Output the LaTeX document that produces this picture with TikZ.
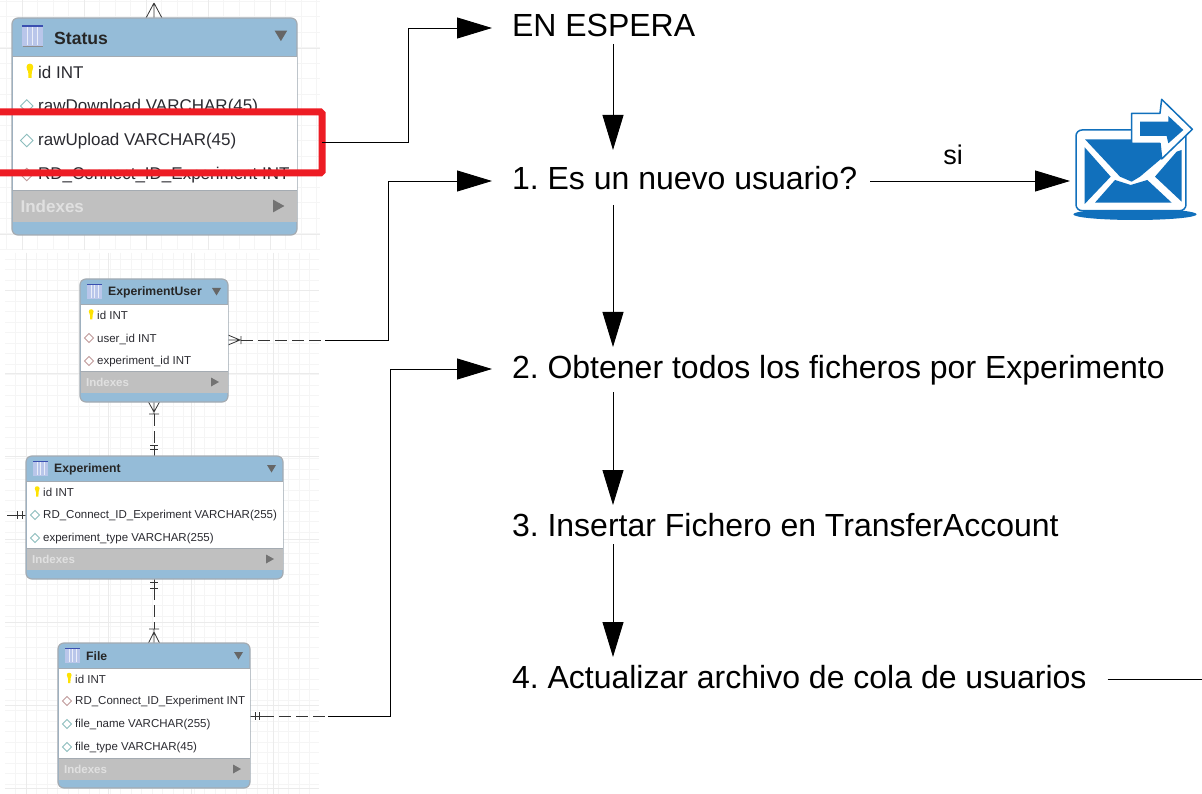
\documentclass[tikz,border=0pt]{standalone}
\usepackage{fontspec}
\setmainfont{Liberation Sans}
\usetikzlibrary{arrows.meta,calc}
\definecolor{erblue}{HTML}{95BCD8}
\definecolor{ergray}{HTML}{C0C0C0}
\definecolor{eredge}{HTML}{A4ABB2}
\definecolor{ertext}{HTML}{2A2A30}
\definecolor{erred}{HTML}{ED1C24}
\definecolor{mailblue}{HTML}{1170BC}
\definecolor{icondark}{HTML}{3A4FB0}
\definecolor{iconfill}{HTML}{B9C6EA}
\definecolor{diateal}{HTML}{8CBDBD}
\definecolor{diared}{HTML}{C09A9A}
\tikzset{
  x=1pt,y=-1pt,
  gridminor/.style={draw=black!4,line width=0.5pt},
  gridmajor/.style={draw=black!8,line width=0.7pt},
  flowtext/.style={anchor=base west,inner sep=0pt,outer sep=0pt,text height=25pt,text depth=7pt,font=\fontsize{32}{32}\selectfont},
  flowline/.style={draw=black,line width=0.9pt},
  flowarrow/.style={flowline,-{Triangle[length=35pt,width=21pt,fill=black]}},
  rowtext/.style={anchor=west,inner sep=0pt,text=ertext},
  notation/.style={draw=black!80,line width=0.8pt},
  dashnote/.style={notation,dash pattern=on 12pt off 5pt},
  highlight/.style={draw=erred,line width=7pt,rounded corners=1.5pt},
}
\newcommand{\ersizes}[4]{\def\erfs{#1}\def\ertfs{#2}\def\eru{#3}\def\ertitlex{#4}}
% name x1 y1 x2 y2 ybody yidx ybot title
\newcommand{\ertable}[9]{%
  \path[fill=erblue,draw=eredge,line width=1.2pt,rounded corners=6pt] (#2,#3) rectangle (#4,#5);
  \path[fill=white] (#2+0.5,#6) rectangle (#4-0.5,#7);
  \path[fill=ergray] (#2+0.5,#7) rectangle (#4-0.5,#8);
  \draw[eredge,line width=0.7pt] (#2,#6) -- (#4,#6) (#2,#7) -- (#4,#7);
  \path[fill=black!45] ({#2+7.6*\eru},{#3+5.6*\eru}) rectangle ({#2+22.4*\eru},{#3+20.4*\eru});
  \path[fill=iconfill] ({#2+7*\eru},{#3+5*\eru}) rectangle ({#2+22*\eru},{#3+20*\eru});
  \path[fill=icondark] ({#2+7*\eru},{#3+5*\eru}) rectangle ({#2+22*\eru},{#3+6.2*\eru});
  \foreach \k in {11,14.5,18}{\draw[white!70!iconfill,line width=0.4pt] ({#2+\k*\eru},{#3+6.3*\eru}) -- ({#2+\k*\eru},{#3+19*\eru});}
  \path[fill=black!60] ({#4-16*\eru},{#3+9*\eru}) -- ({#4-7*\eru},{#3+9*\eru}) -- ({#4-11.5*\eru},{#3+16.5*\eru}) -- cycle;
  \node[rowtext,font=\fontsize{\ertfs}{\ertfs}\selectfont\bfseries,text=black!85] (#1title) at ({#2+\ertitlex},{(#3+#6)/2+1}) {#9};
  \node[rowtext,font=\fontsize{\erfs}{\erfs}\selectfont\bfseries,text=white!88!black] (#1idx) at ({#2+6*\eru},{(#7+#8)/2}) {Indexes};
  \path[fill=black!55] ({#4-17*\eru},{(#7+#8)/2-4.5*\eru}) -- ({#4-9*\eru},{(#7+#8)/2}) -- ({#4-17*\eru},{(#7+#8)/2+4.5*\eru}) -- cycle;
}
\newcommand{\keyrow}[4]{% name x y text
  \path[fill=yellow!85!orange] ({#2-8.2*\eru},{#3-3*\eru}) .. controls ({#2-8.2*\eru},{#3-6*\eru}) and ({#2-3.4*\eru},{#3-6*\eru}) .. ({#2-3.4*\eru},{#3-3*\eru}) .. controls ({#2-3.4*\eru},{#3-1*\eru}) and ({#2-4.2*\eru},{#3-0.5*\eru}) .. ({#2-4.4*\eru},{#3+0.5*\eru}) -- ({#2-4.6*\eru},{#3+5*\eru}) -- ({#2-6.8*\eru},{#3+5*\eru}) -- ({#2-7*\eru},{#3+0.5*\eru}) .. controls ({#2-7.4*\eru},{#3-0.5*\eru}) and ({#2-8.2*\eru},{#3-1*\eru}) .. cycle;
  \node[rowtext,font=\fontsize{\erfs}{\erfs}\selectfont] (#1) at (#2,#3+1) {#4};
}
\newcommand{\diarow}[5]{% name x y colour text
  \draw[#4,line width=0.9pt,fill=white] ({#2-12.5*\eru},{#3}) -- ({#2-8*\eru},{#3-4.5*\eru}) -- ({#2-3.5*\eru},{#3}) -- ({#2-8*\eru},{#3+4.5*\eru}) -- cycle;
  \node[rowtext,font=\fontsize{\erfs}{\erfs}\selectfont] (#1) at (#2,#3+1) {#5};
}
\begin{document}
\begin{tikzpicture}
\frenchspacing
\useasboundingbox[fill=white] (0,0) rectangle (1202,794);
% ---- canvas grids
\foreach \v in {6.5,22,...,320}{\draw[gridminor] (\v,0) -- (\v,250);}
\foreach \h in {1,16.5,...,250}{\draw[gridminor] (0,\h) -- (320,\h);}
\foreach \v in {22,84,...,320}{\draw[gridmajor] (\v,0) -- (\v,250);}
\foreach \h in {48,110,...,250}{\draw[gridmajor] (0,\h) -- (320,\h);}
\foreach \v in {15.5,26,...,319}{\draw[gridminor] (\v,253) -- (\v,794);}
\foreach \h in {259,269.5,...,794}{\draw[gridminor] (5,\h) -- (319,\h);}
\foreach \v in {26,108.5,...,319}{\draw[gridmajor] (\v,253) -- (\v,794);}
\foreach \h in {290,373,...,794}{\draw[gridmajor] (5,\h) -- (319,\h);}

% ---- anchors of the notation ends
\coordinate (stTop) at (154,18);
\coordinate (stApex) at (154,3);
\coordinate (euRight) at (228,340);
\coordinate (euBottom) at (154,402);
\coordinate (exTop) at (154,456);
\coordinate (exBottom) at (154,579);
\coordinate (exLeft) at (26,515);
\coordinate (exStub) at (7,515);
\coordinate (fiTop) at (154,643);
\coordinate (fiRight) at (250,716);

% ---- notation between tables
\draw[notation] (stApex) -- (stTop) (stApex) -- (146,18) (stApex) -- (162,18);
\draw[notation] (euRight) -- (241,340) (240,340) -- (228,335) (240,340) -- (228,345) (241,336) -- (241,344);
\draw[dashnote] (241,340) -- (325,340) coordinate (euDashEnd);
\draw[notation] (euBottom) -- (154,414) (154,412) -- (148.5,402) (154,412) -- (159.5,402) (149,414) -- (159,414);
\draw[dashnote] (154,414) -- (154,445);
\draw[notation] (150,445) -- (158,445) (150,449) -- (158,449) (154,445) -- (exTop);
\draw[notation] (exStub) -- (exLeft) (17,511) -- (17,519) (22,511) -- (22,519);
\draw[notation] (exBottom) -- (154,588) (150,582) -- (158,582) (150,588) -- (158,588);
\draw[dashnote] (154,588) -- (154,629);
\draw[notation] (149,629) -- (159,629) (154,629) -- (fiTop) (154,632) -- (148.5,643) (154,632) -- (159.5,643);
\draw[notation] (fiRight) -- (262,716) (255,712) -- (255,720) (259,712) -- (259,720);
\draw[dashnote] (262,716) -- (328,716) coordinate (fiDashEnd);

% ---- tables
\ersizes{17}{17.6}{1.4}{42}
\ertable{status}{12}{18}{297}{235}{56}{190}{222}{Status}
\keyrow{stId}{38}{71}{id INT}
\diarow{stDown}{38}{106}{diateal}{rawDownload VARCHAR(45)}
\diarow{stUp}{38}{140.5}{diateal}{rawUpload VARCHAR(45)}
\diarow{stRd}{38}{174.5}{diared}{RD\_Connect\_ID\_Experiment INT}

\ersizes{11.5}{12.2}{1}{28}
\ertable{expuser}{80}{279}{228}{402}{304}{371}{393}{ExperimentUser}
\keyrow{euId}{97}{314.5}{id INT}
\diarow{euUser}{97}{338}{diared}{user\_id INT}
\diarow{euExp}{97}{361}{diared}{experiment\_id INT}

\ertable{experiment}{26}{456}{283}{579}{481}{548}{570}{Experiment}
\keyrow{exId}{43}{491.5}{id INT}
\diarow{exRd}{43}{515}{diateal}{RD\_Connect\_ID\_Experiment VARCHAR(255)}
\diarow{exType}{43}{538}{diateal}{experiment\_type VARCHAR(255)}

\ertable{file}{58}{643}{250}{788}{668}{758}{780}{File}
\keyrow{fiId}{75}{678}{id INT}
\diarow{fiRd}{75}{701}{diared}{RD\_Connect\_ID\_Experiment INT}
\diarow{fiName}{75}{724}{diateal}{file\_name VARCHAR(255)}
\diarow{fiType}{75}{747}{diateal}{file\_type VARCHAR(45)}

% ---- red highlight
\draw[highlight] (-6,112) -- (322,112) -- (322,173) -- (-6,173);
\coordinate (hlRight) at (322,142);

% ---- flow text
\node[flowtext] (s0) at (512,37) {EN ESPERA};
\node[flowtext] (s1) at (512,190) {1. Es un nuevo usuario?};
\node[flowtext] (s2) at (512,378) {2. Obtener todos los ficheros por Experimento};
\node[flowtext] (s3) at (512,536) {3. Insertar Fichero en TransferAccount};
\node[flowtext] (s4) at (512,688) {4. Actualizar archivo de cola de usuarios};
\node[anchor=base,inner sep=0pt,font=\fontsize{27}{27}\selectfont] (si) at (953,165) {si};
\coordinate (axis) at (613,0);
\coordinate (mail) at (1070,181);
\coordinate (exitEnd) at (1202,679);
\coordinate (bendA) at (408,0);
\coordinate (bendB) at (388,0);
\coordinate (bendC) at (390,0);

% ---- flow connectors
\draw[flowarrow,shorten >=15pt] (s0.south -| axis) -- (s1.north -| axis);
\draw[flowarrow,shorten <=8pt,shorten >=6pt] (s1.south -| axis) -- (s2.north -| axis);
\draw[flowarrow,shorten <=7pt,shorten >=6pt] (s2.south -| axis) -- (s3.north -| axis);
\draw[flowarrow,shorten <=1pt,shorten >=6pt] (s3.south -| axis) -- (s4.north -| axis);
\draw[flowarrow,shorten <=13pt] (s1.east) -- (s1.east -| mail);
\draw[flowline,shorten <=21pt] (s4.east) -- (s4.east -| exitEnd);
\draw[flowarrow,shorten >=20pt] (hlRight) -- (hlRight -| bendA) -- (bendA |- s0.west) -- (s0.west);
\draw[flowarrow,shorten >=20pt] (euDashEnd) -- (euDashEnd -| bendB) -- (bendB |- s1.west) -- (s1.west);
\draw[flowarrow,shorten >=20pt] (fiDashEnd) -- (fiDashEnd -| bendC) -- (bendC |- s2.west) -- (s2.west);

% ---- mail icon
\begin{scope}[shift={(1040,80)},x=0.3333pt,y=-0.3333pt]
  \path[fill=mailblue] (285,403) ellipse [x radius=185,y radius=17];
  \path[fill=white,draw=mailblue,line width=1.5pt,rounded corners=6pt] (108,150) -- (300,150) -- (438,150) -- (438,392) -- (108,392) -- cycle;
  \path[fill=mailblue] (135,178) -- (280,178) -- (360,178) -- (365,235) -- (300,290) -- (275,305) -- (240,290) -- cycle;
  \path[fill=mailblue] (134,202) -- (212,290) -- (134,372) -- cycle;
  \path[fill=mailblue] (410,215) -- (425,210) -- (425,365) -- (345,290) -- cycle;
  \path[fill=mailblue] (272,315) -- (322,300) -- (395,368) -- (165,368) -- (225,300) -- cycle;
  \path[fill=white,draw=mailblue,line width=1.5pt,line join=round] (275,100) -- (360,100) -- (365,58) -- (457,148) -- (365,237) -- (360,190) -- (275,190) -- cycle;
  \path[fill=mailblue] (300,125) -- (385,125) -- (385,108) -- (430,150) -- (385,190) -- (380,168) -- (300,168) -- cycle;
\end{scope}
\end{tikzpicture}
\end{document}
